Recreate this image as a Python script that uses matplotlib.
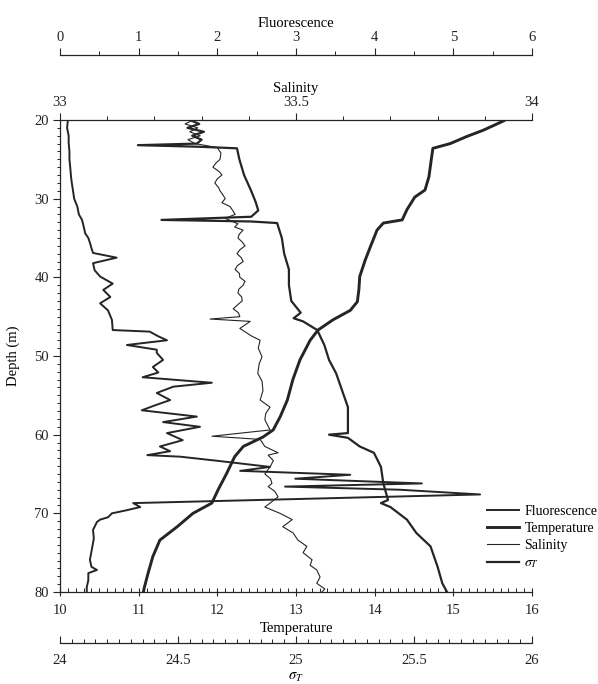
import numpy as np
import matplotlib
matplotlib.use("Agg")
import matplotlib.pyplot as plt
from matplotlib.ticker import MultipleLocator

plt.rcParams['font.family'] = ['Liberation Serif', 'DejaVu Serif']
plt.rcParams['mathtext.fontset'] = 'stix'
plt.rcParams['font.size'] = 10.5

# fluorescence profile
fl_depth = [20, 21, 22, 22.9, 24, 25, 26, 27.2, 28, 29.3, 30, 31, 32, 32.7, 33.5, 34.4, 35, 35.6, 36.3, 36.9,
            37.5, 38.2, 39.1, 39.9, 40.8, 41.6, 42.5, 43.3, 44.2, 45.4, 46.7, 46.9, 47.5, 48.0, 48.6, 49.2, 49.6,
            50.5, 51.4, 52.1, 52.7, 53.4, 53.9, 54.7, 55.6, 56.3, 56.9, 57.7, 58.4, 59.0, 59.8, 60.7, 61.5, 62.1,
            62.6, 62.8, 63.4, 64.1, 64.6, 65.1, 65.6, 66.2, 66.6, 67.0, 67.6, 68.3, 68.7, 69.2, 69.6, 70.0, 70.5,
            70.8, 71.1, 72.1, 73.2, 74.3, 75.9, 76.8, 77.2, 77.6, 78.5, 79.4, 80]
fl_vals = [0.10, 0.09, 0.11, 0.11, 0.12, 0.12, 0.13, 0.14, 0.15, 0.17, 0.18, 0.22, 0.24, 0.28, 0.30, 0.32, 0.36,
           0.38, 0.40, 0.42, 0.72, 0.42, 0.44, 0.51, 0.67, 0.55, 0.64, 0.51, 0.61, 0.66, 0.67, 1.14, 1.25, 1.36,
           0.85, 1.23, 1.23, 1.31, 1.18, 1.25, 1.05, 1.93, 1.44, 1.23, 1.40, 1.20, 1.04, 1.74, 1.31, 1.78, 1.36,
           1.56, 1.27, 1.40, 1.11, 1.53, 2.07, 2.67, 2.29, 3.69, 2.99, 4.60, 2.86, 4.32, 5.34, 2.54, 0.93, 1.02,
           0.85, 0.66, 0.61, 0.51, 0.47, 0.42, 0.43, 0.41, 0.38, 0.40, 0.47, 0.36, 0.36, 0.34, 0.34]

# temperature profile
t_depth = [20, 20.2, 21.3, 22.1, 23.0, 23.6, 25, 27.2, 28.9, 29.8, 31.4, 32.7, 33.1, 34, 36, 37.8, 39.9, 41.5,
           43.1, 44.2, 45.4, 46.7, 48, 50.5, 53, 55.6, 57.7, 59.4, 60.3, 61.5, 62.8, 64.9, 67, 68.7, 70, 71.7,
           73.4, 75.5, 77.6, 79.5, 80]
t_vals = [15.66, 15.62, 15.38, 15.17, 14.96, 14.74, 14.72, 14.69, 14.64, 14.51, 14.41, 14.35, 14.11, 14.03,
          13.95, 13.88, 13.81, 13.80, 13.78, 13.69, 13.47, 13.28, 13.18, 13.05, 12.96, 12.89, 12.80, 12.71,
          12.58, 12.33, 12.22, 12.12, 12.01, 11.93, 11.69, 11.49, 11.27, 11.18, 11.12, 11.07, 11.06]

# salinity profile
sal_depth = [20, 20.5, 21, 21.5, 22, 22.5, 23, 23.5, 24.2, 25, 25.5, 26, 26.6, 27, 27.5, 28, 28.6, 29, 29.5,
             30, 30.5, 31, 31.5, 32, 32.5, 33.2, 33.6, 34, 34.5, 35, 35.5, 36, 36.5, 37, 37.5, 38, 38.5, 39,
             39.5, 40, 40.5, 41, 41.5, 42, 42.5, 43, 43.5, 44, 44.5, 45, 45.3, 45.6, 46.5, 47.5, 48, 49, 50.1,
             51, 52.2, 53.2, 54.4, 55.6, 56.5, 57.3, 58.1, 59.4, 60.2, 60.6, 61.5, 62.3, 62.6, 63.3, 64.1, 65,
             65.6, 66.2, 66.6, 67.2, 67.9, 68.7, 69.2, 70, 70.8, 71.7, 72.5, 73.4, 74.2, 75.0, 75.9, 76.6,
             77.2, 78.1, 78.9, 79.6, 80]
sal_vals = [33.282, 33.265, 33.292, 33.275, 33.297, 33.271, 33.286, 33.333, 33.341, 33.339, 33.330, 33.324,
            33.338, 33.343, 33.333, 33.328, 33.336, 33.339, 33.345, 33.350, 33.343, 33.360, 33.366, 33.371,
            33.350, 33.377, 33.370, 33.388, 33.380, 33.377, 33.386, 33.392, 33.381, 33.375, 33.384, 33.388,
            33.376, 33.371, 33.380, 33.381, 33.392, 33.388, 33.379, 33.377, 33.385, 33.386, 33.376, 33.367,
            33.378, 33.381, 33.318, 33.403, 33.381, 33.407, 33.424, 33.420, 33.428, 33.422, 33.419, 33.428,
            33.430, 33.424, 33.445, 33.436, 33.434, 33.445, 33.322, 33.424, 33.434, 33.462, 33.441, 33.452,
            33.445, 33.434, 33.446, 33.449, 33.441, 33.455, 33.462, 33.445, 33.434, 33.466, 33.492, 33.472,
            33.494, 33.504, 33.523, 33.515, 33.534, 33.530, 33.544, 33.551, 33.544, 33.561, 33.555]

# sigma-t profile
sig_depth = [20, 20.5, 21, 21.5, 22, 22.5, 23.0, 23.2, 23.4, 23.6, 25, 27, 29, 30.5, 31.5, 32.3, 32.7, 32.9,
             33.1, 35, 37, 39, 41, 43, 44.5, 45.2, 45.6, 46.7, 48.6, 50.5, 52.2, 56.5, 58.5, 59.8, 60.0, 60.4,
             61.5, 62.3, 64.1, 66.2, 68.3, 68.7, 69.2, 70.8, 72.5, 74.2, 76.8, 78.9, 80]
sig_vals = [24.55, 24.59, 24.54, 24.61, 24.56, 24.60, 24.58, 24.33, 24.59, 24.75, 24.76, 24.78, 24.81, 24.83,
            24.84, 24.81, 24.43, 24.81, 24.92, 24.94, 24.95, 24.97, 24.97, 24.98, 25.02, 24.99, 25.03, 25.09,
            25.12, 25.14, 25.17, 25.22, 25.22, 25.22, 25.14, 25.22, 25.27, 25.33, 25.36, 25.37, 25.39, 25.36,
            25.40, 25.47, 25.51, 25.57, 25.60, 25.62, 25.64]

col = '#252525'

fig = plt.figure(figsize=(5.98, 6.84), dpi=100)
ax = fig.add_axes([60 / 598, 1 - 592 / 684, 472 / 598, 472 / 684])

# temperature on main axes (bottom)
lt, = ax.plot(t_vals, t_depth, color=col, lw=2.1, label='Temperature')
ax.set_xlim(10, 16)
ax.set_ylim(80, 20)
ax.spines['top'].set_visible(False)
ax.spines['right'].set_visible(False)
ax.xaxis.set_major_locator(MultipleLocator(1))
ax.xaxis.set_minor_locator(MultipleLocator(0.1))
ax.yaxis.set_major_locator(MultipleLocator(10))
ax.yaxis.set_minor_locator(MultipleLocator(1))
ax.tick_params(axis='x', which='major', direction='inout', length=6, pad=6)
ax.tick_params(axis='x', which='minor', direction='in', length=3)
ax.tick_params(axis='y', which='major', direction='out', length=5, pad=3)
ax.tick_params(axis='y', which='minor', direction='out', length=2.5)
ax.set_xlabel('Temperature', labelpad=3)
ax.set_ylabel('Depth (m)', labelpad=10)

# salinity (top spine)
ax_s = ax.twiny()
ls, = ax_s.plot(sal_vals, sal_depth, color=col, lw=0.8, label='Salinity')
ax_s.set_xlim(33, 34)
for s in ['left', 'right', 'bottom']:
    ax_s.spines[s].set_visible(False)
ax_s.xaxis.set_minor_locator(MultipleLocator(0.1))
ax_s.set_xticks([33, 33.5, 34])
ax_s.set_xticklabels(['33', '33.5', '34'])
ax_s.tick_params(axis='x', which='major', direction='out', length=5, pad=3)
ax_s.tick_params(axis='x', which='minor', direction='out', length=3)
ax_s.set_xlabel('Salinity', labelpad=3)

# fluorescence (detached top axis)
ax_f = ax.twiny()
lf, = ax_f.plot(fl_vals, fl_depth, color=col, lw=1.4, label='Fluorescence')
ax_f.set_xlim(0, 6)
for s in ['left', 'right', 'bottom']:
    ax_f.spines[s].set_visible(False)
ax_f.spines['top'].set_position(('axes', 1.1377))
ax_f.xaxis.set_major_locator(MultipleLocator(1))
ax_f.xaxis.set_minor_locator(MultipleLocator(0.5))
ax_f.tick_params(axis='x', which='major', direction='out', length=5, pad=3)
ax_f.tick_params(axis='x', which='minor', direction='out', length=3)
ax_f.set_xlabel('Fluorescence', labelpad=3)

# sigma-t (detached bottom axis)
ax_g = ax.twiny()
lg, = ax_g.plot(sig_vals, sig_depth, color=col, lw=1.6, label=r'$\sigma_T$')
ax_g.set_xlim(24, 26)
for s in ['left', 'right', 'top']:
    ax_g.spines[s].set_visible(False)
ax_g.spines['bottom'].set_visible(True)
ax_g.xaxis.set_ticks_position('bottom')
ax_g.xaxis.set_label_position('bottom')
ax_g.spines['bottom'].set_position(('axes', -0.108))
ax_g.xaxis.set_minor_locator(MultipleLocator(0.05))
ax_g.set_xticks([24, 24.5, 25, 25.5, 26])
ax_g.set_xticklabels(['24', '24.5', '25', '25.5', '26'])
ax_g.tick_params(axis='x', which='major', direction='in', length=5, pad=8)
ax_g.tick_params(axis='x', which='minor', direction='in', length=3)
ax_g.set_xlabel(r'$\sigma_T$', labelpad=3)

for a in [ax, ax_s, ax_f, ax_g]:
    for s in a.spines.values():
        s.set_color(col)
        s.set_linewidth(0.9)
    a.tick_params(colors=col, labelcolor='#222222')

ax_g.legend([lf, lt, ls, lg], ['Fluorescence', 'Temperature', 'Salinity', r'$\sigma_T$'],
            loc='upper left', bbox_to_anchor=(480 / 598, 1 - 498 / 684),
            bbox_transform=fig.transFigure, frameon=False, handlelength=2.3,
            handletextpad=0.4, labelspacing=0.3, borderpad=0, fontsize=10)

fig.savefig('out.png', dpi=100)
